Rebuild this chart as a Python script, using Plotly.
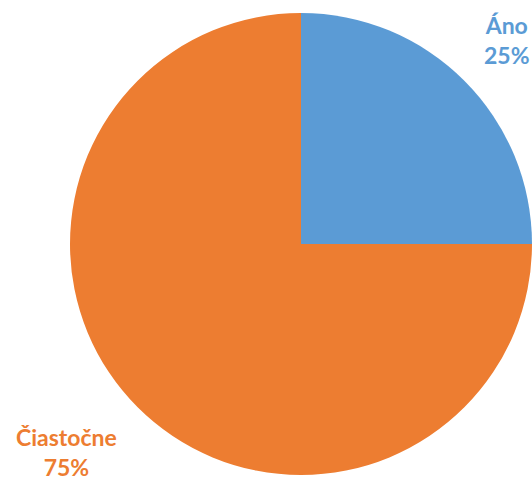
import plotly.graph_objects as go

categories = ["Áno", "Čiastočne"]
values = [25, 75]
colors = ["#5B9BD5", "#ED7D31"]

W, H = 532, 484
fig = go.Figure(go.Pie(
    labels=categories,
    values=values,
    marker=dict(colors=colors, line=dict(width=0)),
    sort=False,
    direction="clockwise",
    rotation=0,
    textinfo="none",
    hoverinfo="label+percent",
    domain=dict(x=[70 / W, 1.0], y=[9 / H, 471 / H]),
))

total = sum(values)
label_pos = [(507, 40), (66, 452)]
for cat, val, col, (px, py) in zip(categories, values, colors, label_pos):
    fig.add_annotation(
        x=px / W, y=1 - py / H, xref="paper", yref="paper",
        text=f"<b>{cat}<br>{round(100 * val / total)}%</b>",
        showarrow=False, xanchor="center", yanchor="middle",
        font=dict(family="Lato", size=23, color=col),
        align="center",
    )

fig.update_layout(
    width=W, height=H,
    margin=dict(l=0, r=0, t=0, b=0),
    showlegend=False,
    paper_bgcolor="white",
    plot_bgcolor="white",
)
fig.write_html(
    "out.html",
    config={"displayModeBar": False},
    post_script="document.body.style.margin='0';document.body.style.overflow='hidden';",
)
